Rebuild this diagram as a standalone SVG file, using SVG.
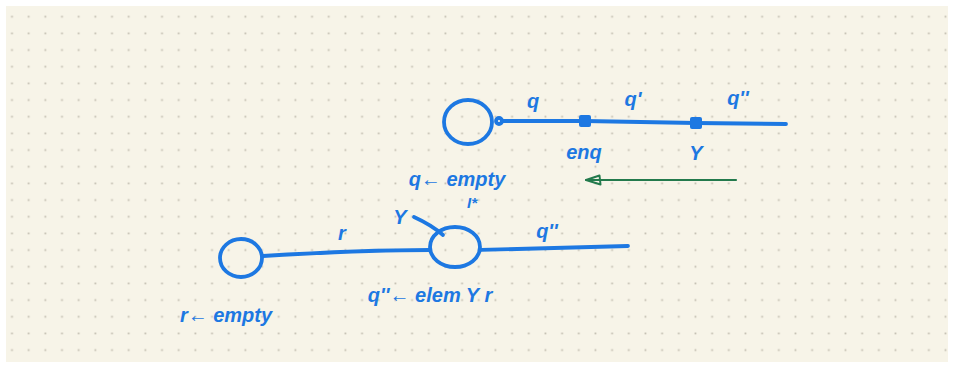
<svg xmlns="http://www.w3.org/2000/svg" width="954" height="368" viewBox="0 0 954 368">
<defs>
<pattern id="dots" x="3.7" y="8.4" width="16.67" height="16.67" patternUnits="userSpaceOnUse">
<rect x="7.4" y="7.4" width="1.8" height="1.8" fill="#c4c0b2"/>
</pattern>
<marker id="openhead" viewBox="0 0 18 12" refX="16.5" refY="6" markerWidth="18" markerHeight="12" markerUnits="userSpaceOnUse" orient="auto">
<path d="M2,1.5 L16.5,6 L3,10.5 Z" fill="none" stroke="#237a4c" stroke-width="2" stroke-linejoin="round"/>
</marker>
<style>
.pen{fill:none;stroke:#1d78e2;stroke-width:3.8;stroke-linecap:round;stroke-linejoin:round}
.ink{fill:#1d78e2;font-family:"Liberation Sans",Arial,sans-serif;font-style:italic;font-weight:bold}
.green{fill:none;stroke:#237a4c;stroke-width:2.2;stroke-linecap:round}
</style>
</defs>
<rect width="954" height="368" fill="#ffffff"/>
<rect x="6" y="6" width="942" height="356" fill="#f7f4e8"/>
<rect x="6" y="6" width="942" height="356" fill="url(#dots)"/>

<g id="connectors">
<path class="pen" d="M502,121 L585,121 L696,123 L786,124"/>
<path class="pen" d="M263,256 C330,252 390,250 430,250"/>
<path class="pen" d="M480,250 C530,249 580,247 628,246"/>
<path class="pen" d="M414,217 C425,222 435,228 443,235"/>
<path class="green" d="M736,180 L586,180" marker-end="url(#openhead)"/>
</g>

<g id="node-top-start">
<ellipse class="pen" cx="468" cy="122" rx="24" ry="22"/>
<circle class="pen" cx="499" cy="121" r="3"/>
<text class="ink" x="457" y="186" font-size="20" text-anchor="middle">q← empty</text>
<text class="ink" x="472" y="208" font-size="15" text-anchor="middle">I*</text>
</g>
<g id="node-enq">
<rect x="579" y="115" width="12" height="12" rx="2" fill="#1d78e2"/>
<text class="ink" x="584" y="159" font-size="20" text-anchor="middle">enq</text>
</g>
<g id="node-Y-top">
<rect x="690" y="117" width="12" height="12" rx="2" fill="#1d78e2"/>
<text class="ink" x="696" y="160" font-size="20" text-anchor="middle">Y</text>
</g>
<g id="labels-top">
<text class="ink" x="533" y="108" font-size="20" text-anchor="middle">q</text>
<text class="ink" x="633" y="106" font-size="20" text-anchor="middle">q'</text>
<text class="ink" x="738" y="105" font-size="20" text-anchor="middle">q''</text>
</g>

<g id="node-r-start">
<ellipse class="pen" cx="241" cy="258" rx="21" ry="19"/>
<text class="ink" x="226" y="322" font-size="20" text-anchor="middle">r← empty</text>
</g>
<g id="node-elem">
<ellipse class="pen" cx="455" cy="247" rx="25" ry="20"/>
<text class="ink" x="430" y="302" font-size="20" text-anchor="middle">q''← elem Y r</text>
</g>
<g id="labels-bottom">
<text class="ink" x="342" y="240" font-size="20" text-anchor="middle">r</text>
<text class="ink" x="400" y="224" font-size="20" text-anchor="middle">Y</text>
<text class="ink" x="547" y="238" font-size="20" text-anchor="middle">q''</text>
</g>
</svg>
